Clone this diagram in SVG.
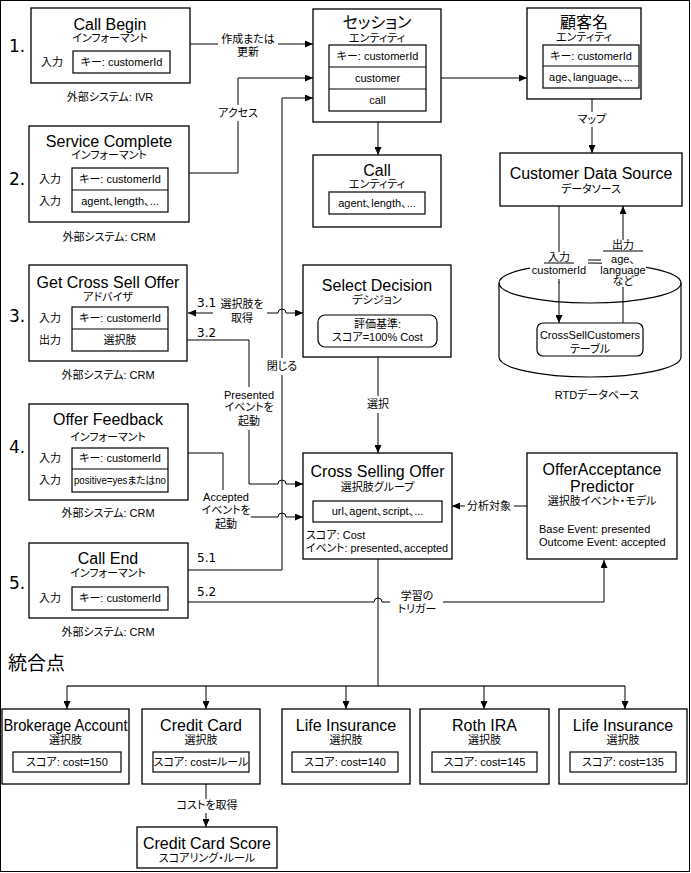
<svg xmlns="http://www.w3.org/2000/svg" width="691" height="873" viewBox="0 0 691 873">
<defs>
<marker id="ah" viewBox="0 0 8 7" markerWidth="8" markerHeight="7" refX="8" refY="3.5" orient="auto" markerUnits="userSpaceOnUse"><path d="M0,0 L8,3.5 L0,7 z" fill="#000"/></marker>
<style>
text{font-family:"Liberation Sans","Noto Sans CJK JP",sans-serif;fill:#000;font-feature-settings:"palt"}
.box{fill:#fff;stroke:#000;stroke-width:1.3}
.in{fill:#fff;stroke:#000;stroke-width:1.2}
.ln{fill:none;stroke:#000;stroke-width:1}
.arr{marker-end:url(#ah)}
.t{font-size:16px;text-anchor:middle}
.s{font-size:11px;text-anchor:middle}
.l{font-size:11px}
.num{font-family:"DejaVu Sans",sans-serif;font-size:17px}
.sn{font-family:"DejaVu Sans",sans-serif;font-size:12px}
.bg{fill:#fff;stroke:none}
</style>
</defs>
<rect x="0.5" y="0.5" width="689" height="871" fill="#fff" stroke="#000" stroke-width="1"/>

<g id="labels-num">
<text class="num" x="9" y="52">1.</text>
<text class="num" x="9" y="185">2.</text>
<text class="num" x="9" y="322">3.</text>
<text class="num" x="9" y="453">4.</text>
<text class="num" x="9" y="589">5.</text>
<text x="8" y="670" style="font-size:19px">統合点</text>
</g>

<g id="connectors">
<path class="ln" d="M190,44 H218"/><path class="ln arr" d="M278,44 H313"/>
<path class="ln" d="M189,173 H238 V121"/><path class="ln arr" d="M238,105 V78 H313"/>
<path class="ln" d="M188,570 H282 V375"/><path class="ln arr" d="M282,358 V98 H313"/>
<path class="ln arr" d="M426,78 H527"/>
<path class="ln arr" d="M592,112 V88"/><path class="ln arr" d="M592,127 V153"/>
<path class="ln arr" d="M378,111 V155"/>
<path class="ln" d="M559,206 V252"/><path class="ln arr" d="M559,282 V323"/>
<path class="ln" d="M623,323 V279"/><path class="ln arr" d="M623,240 V206"/>
<path class="ln" d="M586,260 H601"/>
<path class="ln arr" d="M213,313 H188"/><path class="ln arr" d="M267,313 H278 A4,4 0 0 1 286,313 H303"/>
<path class="ln" d="M187,340 H249 V387"/><path class="ln arr" d="M249,430 V484 H278 A4,4 0 0 1 286,484 H303"/>
<path class="ln" d="M188,453 H223 V490"/><path class="ln arr" d="M251,517 H278 A4,4 0 0 1 286,517 H303"/>
<path class="ln" d="M378,357 V396"/><path class="ln arr" d="M378,413 V453"/>
<path class="ln" d="M527,506 H514"/><path class="ln arr" d="M465,506 H452"/>
<path class="ln" d="M188,602 H374 A4,4 0 0 1 382,602 H390"/><path class="ln arr" d="M443,602 H604 V560"/>
<path class="ln" d="M378,559 V686"/>
<path class="ln" d="M67,686 H625" style="stroke:#333;stroke-width:1.6"/>
<path class="ln arr" d="M67,686 V709"/>
<path class="ln arr" d="M206,686 V709"/>
<path class="ln arr" d="M346,686 V709"/>
<path class="ln arr" d="M484,686 V709"/>
<path class="ln arr" d="M625,686 V709"/>
<path class="ln" d="M206,784 V799"/><path class="ln arr" d="M206,813 V827"/>

<text class="s" x="248" y="43">作成または</text>
<text class="s" x="248" y="56">更新</text>
<text class="s" x="238" y="117">アクセス</text>
<text class="s" x="282" y="370">閉じる</text>
<text class="s" x="592" y="123">マップ</text>
<text class="s" x="242" y="308">選択肢を</text>
<text class="s" x="242" y="322">取得</text>
<text class="sn" x="197" y="307">3.1</text>
<text class="sn" x="197" y="337">3.2</text>
<text class="s" x="249" y="399">Presented</text>
<text class="s" x="249" y="411">イベントを</text>
<text class="s" x="249" y="425">起動</text>
<text class="s" x="226" y="501">Accepted</text>
<text class="s" x="226" y="514">イベントを</text>
<text class="s" x="226" y="528">起動</text>
<text class="sn" x="197" y="562">5.1</text>
<text class="sn" x="197" y="596">5.2</text>
<text class="s" x="378" y="408">選択</text>
<text class="s" x="489" y="510">分析対象</text>
<text class="s" x="417" y="600">学習の</text>
<text class="s" x="417" y="613">トリガー</text>
<text class="s" x="207" y="809">コストを取得</text>
</g>

<g id="call-begin">
<rect class="box" x="31" y="8" width="159" height="75"/>
<text class="t" x="110" y="30">Call Begin</text>
<text class="s" x="110" y="42">インフォーマント</text>
<text class="s" x="52" y="66">入力</text>
<rect class="in" x="73" y="51" width="97" height="22"/>
<text class="s" x="121.5" y="66">キー: customerId</text>
<text class="s" x="110" y="101">外部システム: IVR</text>
</g>

<g id="service-complete">
<rect class="box" x="29" y="126" width="160" height="96"/>
<text class="t" x="109" y="147">Service Complete</text>
<text class="s" x="109" y="159">インフォーマント</text>
<text class="s" x="50" y="183">入力</text>
<text class="s" x="50" y="205">入力</text>
<rect class="in" x="72" y="168" width="96" height="44"/>
<path class="ln" d="M72,190 H168" style="stroke-width:1.2"/>
<text class="s" x="120" y="183">キー: customerId</text>
<text class="s" x="120" y="205">agent、length、...</text>
<text class="s" x="109" y="241">外部システム: CRM</text>
</g>

<g id="get-cross-sell-offer">
<rect class="box" x="29" y="265" width="158" height="96"/>
<text class="t" x="108" y="288">Get Cross Sell Offer</text>
<text class="s" x="108" y="301">アドバイザ</text>
<text class="s" x="50" y="322">入力</text>
<text class="s" x="50" y="344">出力</text>
<rect class="in" x="72" y="307" width="96" height="44"/>
<path class="ln" d="M72,329 H168" style="stroke-width:1.2"/>
<text class="s" x="120" y="322">キー: customerId</text>
<text class="s" x="120" y="344">選択肢</text>
<text class="s" x="108" y="379">外部システム: CRM</text>
</g>

<g id="offer-feedback">
<rect class="box" x="29" y="404" width="159" height="96"/>
<text class="t" x="108" y="425">Offer Feedback</text>
<text class="s" x="108" y="441">インフォーマント</text>
<text class="s" x="50" y="462">入力</text>
<text class="s" x="50" y="484">入力</text>
<rect class="in" x="72" y="448" width="96" height="44"/>
<path class="ln" d="M72,469 H168" style="stroke-width:1.2"/>
<text class="s" x="120" y="462">キー: customerId</text>
<text class="s" x="120" y="484" style="font-size:10px" textLength="92" lengthAdjust="spacingAndGlyphs">positive=yesまたはno</text>
<text class="s" x="108" y="517">外部システム: CRM</text>
</g>

<g id="call-end">
<rect class="box" x="29" y="543" width="159" height="75"/>
<text class="t" x="108" y="564">Call End</text>
<text class="s" x="108" y="577">インフォーマント</text>
<text class="s" x="50" y="602">入力</text>
<rect class="in" x="72" y="587" width="96" height="23"/>
<text class="s" x="120" y="602">キー: customerId</text>
<text class="s" x="108" y="636">外部システム: CRM</text>
</g>

<g id="session">
<rect class="box" x="313" y="9" width="128" height="113"/>
<text class="t" x="377" y="28">セッション</text>
<text class="s" x="377" y="42">エンティティ</text>
<rect class="in" x="329" y="45" width="97" height="66"/>
<path class="ln" d="M329,67 H426 M329,89 H426" style="stroke-width:1.2"/>
<text class="s" x="377.5" y="60">キー: customerId</text>
<text class="s" x="377.5" y="82">customer</text>
<text class="s" x="377.5" y="104">call</text>
</g>

<g id="customer">
<rect class="box" x="527" y="8" width="114" height="91"/>
<text class="t" x="584" y="28">顧客名</text>
<text class="s" x="584" y="41">エンティティ</text>
<rect class="in" x="543" y="45" width="96" height="43"/>
<path class="ln" d="M543,66 H639" style="stroke-width:1.2"/>
<text class="s" x="591" y="60">キー: customerId</text>
<text class="s" x="591" y="81">age、language、...</text>
</g>

<g id="call-entity">
<rect class="box" x="313" y="155" width="128" height="72"/>
<text class="t" x="377" y="176">Call</text>
<text class="s" x="377" y="188">エンティティ</text>
<rect class="in" x="329" y="192" width="96" height="22"/>
<text class="s" x="377" y="207">agent、length、...</text>
</g>

<g id="customer-data-source">
<rect class="box" x="500" y="153" width="182" height="53"/>
<text class="t" x="591" y="179">Customer Data Source</text>
<text class="s" x="591" y="193">データソース</text>
</g>

<g id="rtd-database">
<path class="ln" d="M499,283 V357 A91,20 0 0 0 681,357 V283" style="stroke-width:1.2"/>
<ellipse cx="590" cy="283" rx="91" ry="20" fill="none" stroke="#000" stroke-width="1.2"/>
<rect class="in" x="537" y="323" width="106" height="33" rx="6"/>
<text class="s" x="590" y="339">CrossSellCustomers</text>
<text class="s" x="590" y="353">テーブル</text>
<text class="s" x="597" y="399">RTDデータベース</text>
<rect class="bg" x="530" y="252" width="58" height="27"/>
<rect class="bg" x="602" y="252" width="44" height="35"/>
<path class="ln" d="M559,279 V283"/>
<text class="s" x="559" y="261">入力</text>
<path class="ln" d="M544,263 H574"/>
<text class="s" x="559" y="274">customerId</text>
<text class="s" x="623" y="249">出力</text>
<path class="ln" d="M603,251 H643"/>
<text class="s" x="623" y="263">age、</text>
<text class="s" x="623" y="274">language</text>
<text class="s" x="623" y="285">など</text>
</g>

<g id="select-decision">
<rect class="box" x="303" y="265" width="148" height="92"/>
<text class="t" x="377" y="291">Select Decision</text>
<text class="s" x="377" y="304">デシジョン</text>
<rect class="in" x="318" y="315" width="119" height="32" rx="7"/>
<text class="s" x="377.5" y="328">評価基準:</text>
<text class="s" x="377.5" y="341">スコア=100% Cost</text>
</g>

<g id="cross-selling-offer">
<rect class="box" x="303" y="453" width="149" height="106"/>
<text class="t" x="377.5" y="477">Cross Selling Offer</text>
<text class="s" x="377.5" y="491">選択肢グループ</text>
<rect class="in" x="313" y="501" width="129" height="21"/>
<text class="s" x="377.5" y="515">url、agent、script、...</text>
<text class="l" x="306" y="539">スコア: Cost</text>
<text class="l" x="306" y="552" textLength="142" lengthAdjust="spacingAndGlyphs">イベント: presented、accepted</text>
</g>

<g id="predictor">
<rect class="box" x="527" y="453" width="150" height="106"/>
<text class="t" x="602" y="475">OfferAcceptance</text>
<text class="t" x="602" y="492">Predictor</text>
<text class="s" x="602" y="505">選択肢イベント・モデル</text>
<text class="l" x="539" y="533">Base Event: presented</text>
<text class="l" x="539" y="546">Outcome Event: accepted</text>
</g>

<g id="brokerage-account">
<rect class="box" x="2" y="709" width="127" height="75"/>
<text class="t" x="65.5" y="731" textLength="124" lengthAdjust="spacingAndGlyphs">Brokerage Account</text>
<text class="s" x="65.5" y="744">選択肢</text>
<rect class="in" x="13" y="752" width="108" height="20"/>
<text class="s" x="67" y="766">スコア: cost=150</text>
</g>

<g id="credit-card">
<rect class="box" x="142" y="709" width="118" height="75"/>
<text class="t" x="201" y="731">Credit Card</text>
<text class="s" x="201" y="744">選択肢</text>
<rect class="in" x="153" y="752" width="96" height="20"/>
<text class="s" x="201" y="766">スコア: cost=ルール</text>
</g>

<g id="life-insurance-1">
<rect class="box" x="282" y="709" width="128" height="75"/>
<text class="t" x="346" y="731">Life Insurance</text>
<text class="s" x="346" y="744">選択肢</text>
<rect class="in" x="292" y="752" width="106" height="20"/>
<text class="s" x="345" y="766">スコア: cost=140</text>
</g>

<g id="roth-ira">
<rect class="box" x="420" y="709" width="129" height="75"/>
<text class="t" x="484.5" y="731">Roth IRA</text>
<text class="s" x="484.5" y="744">選択肢</text>
<rect class="in" x="432" y="752" width="105" height="20"/>
<text class="s" x="484.5" y="766">スコア: cost=145</text>
</g>

<g id="life-insurance-2">
<rect class="box" x="559" y="709" width="128" height="75"/>
<text class="t" x="623" y="731">Life Insurance</text>
<text class="s" x="623" y="744">選択肢</text>
<rect class="in" x="570" y="752" width="106" height="20"/>
<text class="s" x="623" y="766">スコア: cost=135</text>
</g>

<g id="credit-card-score">
<rect class="box" x="137" y="827" width="140" height="41"/>
<text class="t" x="207" y="849">Credit Card Score</text>
<text class="s" x="207" y="862">スコアリング・ルール</text>
</g>
</svg>
